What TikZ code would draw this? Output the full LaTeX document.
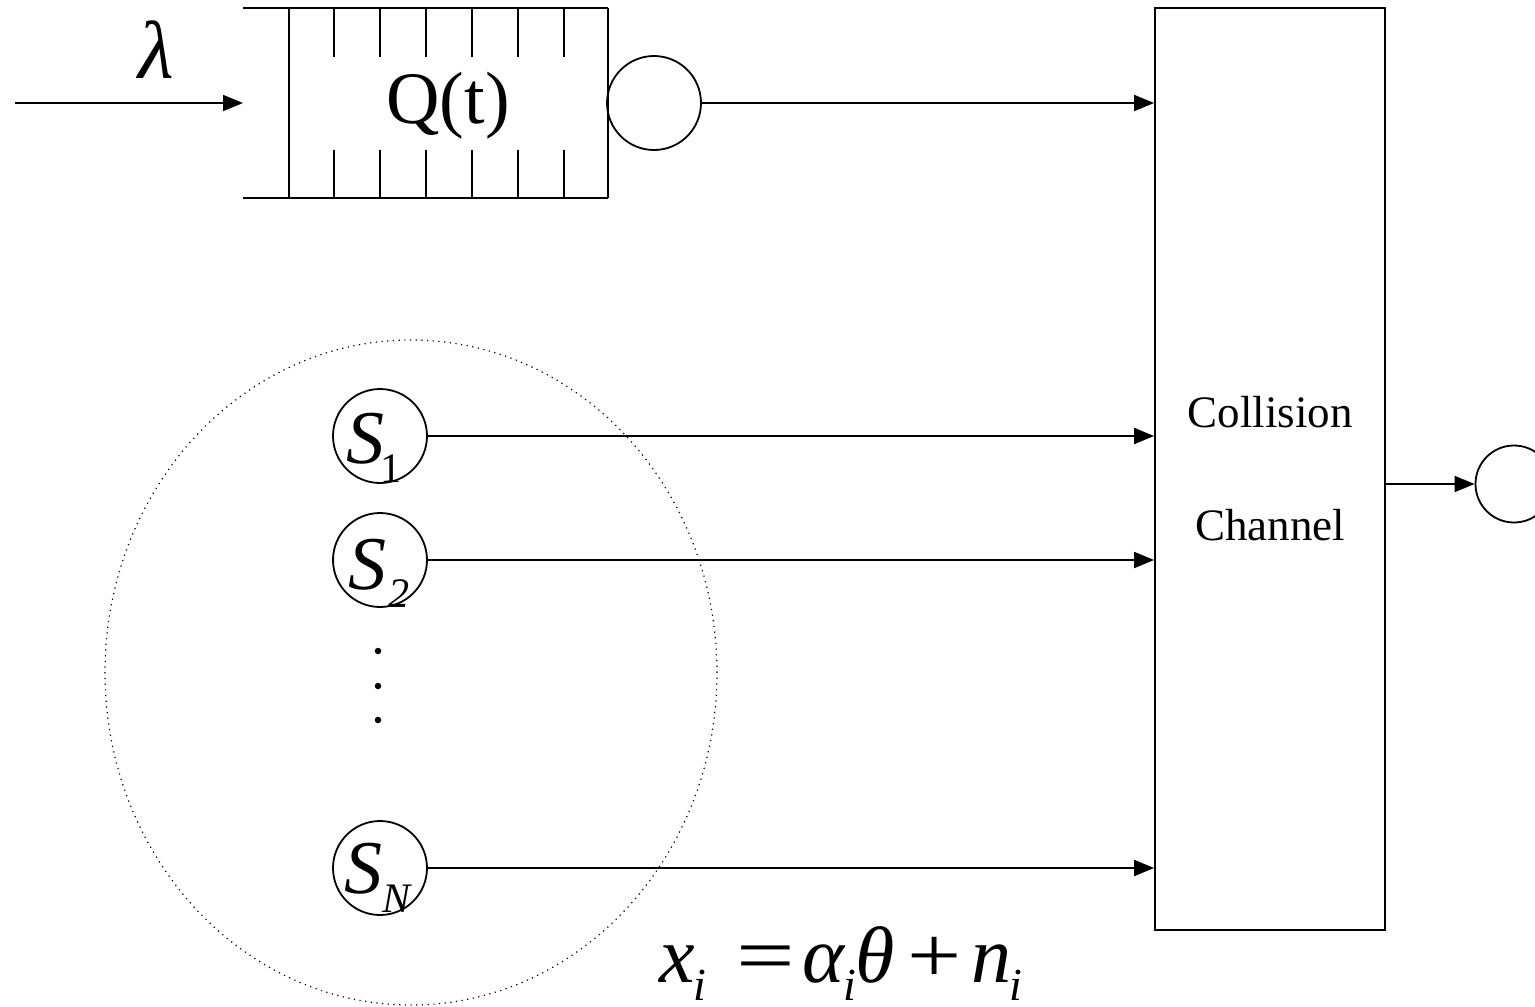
\documentclass[tikz,border=0pt]{standalone}
\usepackage{fontspec}
\setmainfont{Liberation Serif}
\usetikzlibrary{arrows.meta}
\newcommand{\mysub}[3][\itshape]{\raisebox{#2}{\fontsize{21}{21}\selectfont#1 #3}}
\newcommand{\eqsub}[1]{\hspace{-0.02em}\raisebox{-9pt}{\fontsize{23}{23}\selectfont\itshape #1}}
\begin{document}
\begin{tikzpicture}[x=1pt,y=-1pt,line width=1.8pt,
  arr/.style={-{Triangle[length=20pt,width=16pt]}},
  srv/.style={draw,circle,minimum size=94pt,inner sep=0pt},
  bigtxt/.style={scale=2,inner sep=0pt,font=\fontsize{37}{37}\selectfont},
  midtxt/.style={font=\fontsize{45}{45}\selectfont},
  stxt/.style={scale=2,inner sep=0pt,font=\fontsize{38}{38}\selectfont\itshape},
  dotn/.style={circle,fill,inner sep=0pt,minimum size=6.5pt}]
\useasboundingbox (0,0) rectangle (1535,1007);
% dotted grouping ellipse
\draw[line width=1.2pt,dash pattern=on 1.2pt off 4.5pt] (411,672.5) ellipse [x radius=306pt,y radius=332.5pt];
% input arrow and lambda
\coordinate (in) at (15,103);
\coordinate (qin) at (243,103);
\draw[arr] (in) -- (qin);
\node[bigtxt,font=\fontsize{41}{41}\selectfont\itshape] (lam) at (156,50) {λ};
% queue
\coordinate (qtl) at (243,8); \coordinate (qtr) at (608,8);
\coordinate (qbl) at (243,198); \coordinate (qbr) at (608,198);
\draw (qtl) -- (qtr);
\draw (qbl) -- (qbr);
\draw (289,8) -- (289,198);
\draw (qtr) -- (qbr);
\foreach \x in {334,380,426,472,518,564}{
  \draw (\x,8) -- (\x,57);
  \draw (\x,150) -- (\x,198);
}
\node[bigtxt] (q) at (448,106) {Q(t)};
% server
\node[srv] (srv0) at (654,103) {};
% collision channel
\node[draw,minimum width=230pt,minimum height=922pt,inner sep=0pt] (cc) at (1270,469) {};
\node[midtxt] (t1) at (1270,412) {Collision};
\node[midtxt] (t2) at (1270,525) {Channel};
\draw[arr] (srv0.east) -- (srv0.east -| cc.west);
% sources
\node[srv] (s1) at (380,436) {};
\node[srv] (s2) at (380,560) {};
\node[srv] (sn) at (380,868) {};
\node[stxt,anchor=base west] (s1t) at (345,463) {S\hspace{-0.2em}\mysub[\upshape]{-9.5pt}{1}};
\node[stxt,anchor=base west] (s2t) at (347,589) {S\hspace{-0.12em}\mysub{-9pt}{2}};
\node[stxt,anchor=base west] (snt) at (343,893) {S\hspace{-0.14em}\mysub{-9.5pt}{N}};
\node[dotn] (d1) at (378,651) {};
\node[dotn] (d2) at (378,686) {};
\node[dotn] (d3) at (378,720) {};
\draw[arr] (s1.east) -- (s1.east -| cc.west);
\draw[arr] (s2.east) -- (s2.east -| cc.west);
\draw[arr] (sn.east) -- (sn.east -| cc.west);
% output
\node[draw,circle,minimum size=77pt,inner sep=0pt] (out) at (1514,484) {};
\draw[arr] (out.west -| cc.east) -- (out.west);
% formula
\node[anchor=base,inner sep=0pt,scale=2,font=\fontsize{40}{40}\selectfont] (eq) at (841,982)
  {\itshape x\eqsub{i}\hspace{15pt}\upshape\scalebox{1.3}[1]{=}\hspace{4pt}\itshape α\eqsub{i}θ\hspace{6pt}\upshape\scalebox{1.2}[1]{+}\hspace{5pt}\itshape n\eqsub{i}};
\end{tikzpicture}
\end{document}
